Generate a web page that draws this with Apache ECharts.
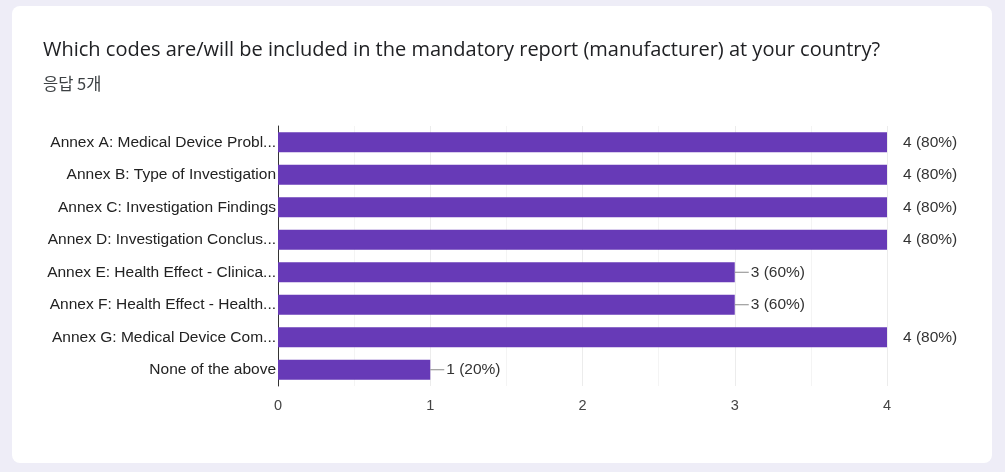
<!DOCTYPE html>
<html>
<head>
<meta charset="utf-8">
<script src="https://cdn.jsdelivr.net/npm/echarts@6/dist/echarts.min.js"></script>
<style>
html,body{margin:0;padding:0;width:1005px;height:472px;background:#eeedf7;overflow:hidden;}
#card{position:absolute;left:12px;top:6px;width:980px;height:457px;background:#fff;border-radius:8px;}
#chart{position:absolute;left:0;top:0;width:1005px;height:472px;}
</style>
</head>
<body>
<div id="card"></div>
<div id="chart"></div>
<script>
const titleText = 'Which codes are/will be included in the mandatory report (manufacturer) at your country?';
const subtitleText = '응답 5개';
const categories = [
  'Annex A: Medical Device Probl...',
  'Annex B: Type of Investigation',
  'Annex C: Investigation Findings',
  'Annex D: Investigation Conclus...',
  'Annex E: Health Effect - Clinica...',
  'Annex F: Health Effect - Health...',
  'Annex G: Medical Device Com...',
  'None of the above'
];
const counts = [4, 4, 4, 4, 3, 3, 4, 1];
const percents = [80, 80, 80, 80, 60, 60, 80, 20];
const xTicks = [0, 1, 2, 3, 4];
const maxVal = 4;
const FONT = '"Liberation Sans", Arial, sans-serif';

const chart = echarts.init(document.getElementById('chart'), null, {renderer: 'canvas'});
const data = counts.map((v, i) => {
  const full = v === maxVal;
  return {
    value: v,
    label: full
      ? {distance: 16, formatter: v + ' (' + percents[i] + '%)'}
      : {distance: 0, formatter: '{ln|}{gap|}' + v + ' (' + percents[i] + '%)'}
  };
});
chart.setOption({
  animation: false,
  title: [
    {text: titleText, left: 38, top: 35, textStyle: {fontFamily: 'Open Sans', fontSize: 20, fontWeight: 'normal', color: '#202124'}},
    {text: subtitleText, left: 38, top: 70, textStyle: {fontFamily: 'Noto Sans CJK KR', fontSize: 16.5, fontWeight: 'normal', color: '#3c4043'}}
  ],
  grid: {left: 278, right: 118, top: 126, bottom: 86, containLabel: false},
  xAxis: {
    type: 'value', min: 0, max: 4, interval: 1,
    axisLine: {show: false}, axisTick: {show: false},
    axisLabel: {fontFamily: FONT, fontSize: 14.5, color: '#444', margin: 12},
    splitLine: {show: true, lineStyle: {color: '#ececec', width: 1}},
    minorTick: {show: false, splitNumber: 2},
    minorSplitLine: {show: true, lineStyle: {color: '#f4f4f4', width: 1}}
  },
  yAxis: {
    type: 'category', data: categories, inverse: true,
    axisLine: {show: true, lineStyle: {color: '#333', width: 1}},
    axisTick: {show: false},
    axisLabel: {fontFamily: FONT, fontSize: 15.5, color: '#222', margin: 2}
  },
  series: [{
    type: 'bar', data: data, barWidth: 20,
    itemStyle: {color: '#673ab7'},
    label: {
      show: true, position: 'right',
      fontFamily: FONT, fontSize: 15.5, color: '#333',
      rich: {ln: {width: 14, height: 1, backgroundColor: '#888'}, gap: {width: 2}}
    }
  }]
});
</script>
</body>
</html>
